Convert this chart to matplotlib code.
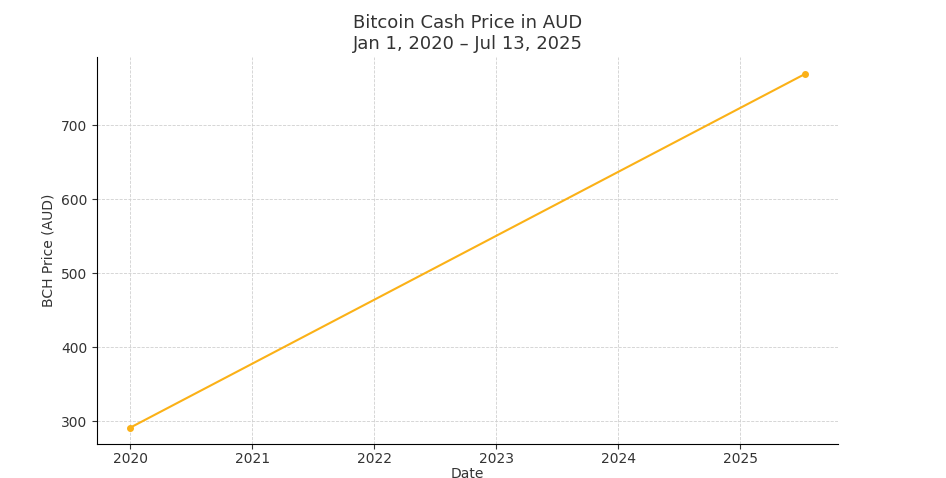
import matplotlib
matplotlib.use('Agg')
import matplotlib.pyplot as plt
import matplotlib.dates as mdates
import pandas as pd

# data
dates = pd.to_datetime(['2020-01-01', '2025-07-13'])
prices = [291, 769]

fig = plt.figure(figsize=(9.46, 4.78), dpi=100)
ax = fig.add_axes([97/946, 1-444/478, (838-97)/946, (444-57)/478])
ax.plot(dates, prices, color='#fbb117', marker='o', markersize=4, linewidth=1.5)

ax.set_xlim(pd.Timestamp('2019-09-24'), pd.Timestamp('2025-10-20'))
ax.set_ylim(269, 792)
ax.set_yticks([300, 400, 500, 600, 700])
ax.xaxis.set_major_locator(mdates.YearLocator())
ax.xaxis.set_major_formatter(mdates.DateFormatter('%Y'))
ax.grid(True, linestyle='--', linewidth=0.6, color='#d0d0d0')
for s in ['top', 'right']:
    ax.spines[s].set_visible(False)
ax.tick_params(labelsize=10, colors='#333333')
ax.tick_params(axis='x', pad=2)
ax.set_xlabel('Date', fontsize=10, color='#333333', labelpad=1)
ax.set_ylabel('BCH Price (AUD)', fontsize=10, color='#333333')
ax.set_title('Bitcoin Cash Price in AUD\nJan 1, 2020 \u2013 Jul 13, 2025', fontsize=13, color='#333333')

plt.savefig('out.png')
